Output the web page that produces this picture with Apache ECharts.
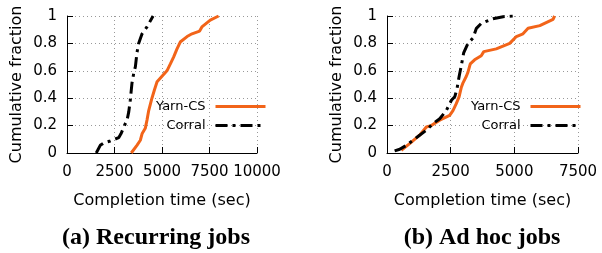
<!DOCTYPE html>
<html>
<head>
<meta charset="utf-8">
<script src="https://cdn.jsdelivr.net/npm/echarts@6/dist/echarts.min.js"></script>
<style>
  html, body { margin: 0; padding: 0; background: #fff; }
  #main { width: 602px; height: 253px; }
</style>
</head>
<body>
<div id="main"></div>
<script>
// (a) Recurring jobs
var recYarnX = [3380, 3680, 3860, 3950, 4120, 4210, 4300, 4470, 4600, 4740, 5000, 5260, 5440, 5610, 5790, 5960, 6320, 6580, 6980, 7100, 7540, 7980];
var recYarnY = [0, 0.056, 0.093, 0.14, 0.18, 0.24, 0.31, 0.40, 0.46, 0.52, 0.56, 0.60, 0.65, 0.70, 0.76, 0.81, 0.85, 0.87, 0.89, 0.92, 0.97, 1.0];
var recCorralX = [1540, 1750, 1930, 2280, 2720, 2840, 3020, 3160, 3250, 3330, 3420, 3510, 3600, 3680, 3770, 3950, 4210, 4530];
var recCorralY = [0, 0.056, 0.073, 0.088, 0.112, 0.14, 0.20, 0.24, 0.30, 0.385, 0.51, 0.58, 0.63, 0.73, 0.80, 0.87, 0.92, 1.0];
// (b) Ad hoc jobs
var adhYarnX = [560, 890, 1280, 1545, 1740, 2070, 2460, 2590, 2720, 2830, 2920, 2980, 3115, 3180, 3270, 3440, 3700, 3800, 4290, 4820, 5080, 5340, 5540, 6000, 6520, 6580];
var adhYarnY = [0.02, 0.068, 0.13, 0.19, 0.20, 0.24, 0.275, 0.31, 0.36, 0.41, 0.48, 0.51, 0.56, 0.59, 0.65, 0.68, 0.71, 0.74, 0.76, 0.80, 0.85, 0.87, 0.91, 0.93, 0.976, 1.0];
var adhCorralX = [300, 500, 760, 1020, 1280, 1545, 1810, 2070, 2330, 2530, 2660, 2750, 2830, 2920, 3010, 3180, 3380, 3510, 3700, 4160, 4560, 5010];
var adhCorralY = [0.015, 0.027, 0.056, 0.093, 0.13, 0.166, 0.215, 0.25, 0.31, 0.385, 0.41, 0.47, 0.556, 0.64, 0.73, 0.80, 0.84, 0.91, 0.946, 0.98, 0.995, 1.0];

var yTicks = ['0', '0.2', '0.4', '0.6', '0.8', '1'];

var FONT = 'DejaVu Sans';
var ORANGE = '#f26419';

function pairs(xs, ys) {
    var out = [];
    for (var i = 0; i < xs.length; i++) {
        out.push([xs[i], ys[i]]);
    }
    return out;
}

function xAxisOf(idx, max) {
    return {
        gridIndex: idx,
        type: 'value',
        min: 0,
        max: max,
        interval: 2500,
        name: 'Completion time (sec)',
        nameLocation: 'middle',
        nameGap: 40,
        nameTextStyle: { color: '#000', fontSize: 16, fontFamily: FONT },
        axisLine: { show: true, lineStyle: { color: '#000', width: 1 } },
        axisTick: { show: true, inside: true, length: 6, lineStyle: { color: '#000' } },
        axisLabel: {
            color: '#000', fontSize: 15, fontFamily: FONT, margin: 12,
            formatter: function (v) { return String(v); }
        },
        splitLine: { show: true, lineStyle: { color: '#999', type: [1, 3], width: 1 } }
    };
}

function yAxisOf(idx) {
    return {
        gridIndex: idx,
        type: 'value',
        min: 0,
        max: 1,
        interval: 0.2,
        name: 'Cumulative fraction',
        nameLocation: 'middle',
        nameGap: 42,
        nameTextStyle: { color: '#000', fontSize: 16, fontFamily: FONT },
        axisLine: { show: true, lineStyle: { color: '#000', width: 1 } },
        axisTick: { show: true, inside: true, length: 6, lineStyle: { color: '#000' } },
        axisLabel: {
            color: '#000', fontSize: 15, fontFamily: FONT, margin: 10,
            formatter: function (v) { return yTicks[Math.round(v * 5)]; }
        },
        splitLine: { show: true, lineStyle: { color: '#999', type: [1, 3], width: 1 } }
    };
}

function yarnSeries(idx, xs, ys) {
    return {
        name: 'Yarn-CS', type: 'line', xAxisIndex: idx, yAxisIndex: idx,
        data: pairs(xs, ys), symbol: 'none', showSymbol: false,
        lineStyle: { color: ORANGE, width: 3 }, itemStyle: { color: ORANGE },
        z: 3
    };
}

function corralSeries(idx, xs, ys) {
    return {
        name: 'Corral', type: 'line', xAxisIndex: idx, yAxisIndex: idx,
        data: pairs(xs, ys), symbol: 'none', showSymbol: false,
        lineStyle: { color: '#000', width: 3, type: [12, 5, 3, 5] }, itemStyle: { color: '#000' },
        z: 4
    };
}

function legendOf(name, right, top) {
    return {
        data: [name],
        orient: 'vertical',
        align: 'right',
        right: right,
        top: top,
        padding: 0,
        itemWidth: 50,
        itemHeight: 14,
        itemGap: 10,
        selectedMode: false,
        // hide the marker ECharts puts in the middle of a line legend icon
        itemStyle: { opacity: 0 },
        lineStyle: { width: 3 },
        textStyle: { color: '#000', fontSize: 13, fontFamily: FONT, padding: [0, 5, 0, 0] }
    };
}

var myChart = echarts.init(document.getElementById('main'), null, { renderer: 'canvas' });

myChart.setOption({
    animation: false,
    backgroundColor: '#fff',
    grid: [
        { left: 67, top: 16, width: 190, height: 137 },
        { left: 387, top: 16, width: 191, height: 137 }
    ],
    xAxis: [xAxisOf(0, 10000), xAxisOf(1, 7500)],
    yAxis: [yAxisOf(0), yAxisOf(1)],
    legend: [
        legendOf('Yarn-CS', 335, 100),
        legendOf('Corral', 335, 119),
        legendOf('Yarn-CS', 20, 100),
        legendOf('Corral', 20, 119)
    ],
    graphic: [
        {
            type: 'text', x: 156, y: 238,
            style: { text: '(a) Recurring jobs', textAlign: 'center', textVerticalAlign: 'middle',
                     font: 'bold 24px "Liberation Serif"', fill: '#000' }
        },
        {
            type: 'text', x: 482, y: 238,
            style: { text: '(b) Ad hoc jobs', textAlign: 'center', textVerticalAlign: 'middle',
                     font: 'bold 24px "Liberation Serif"', fill: '#000' }
        }
    ],
    series: [
        yarnSeries(0, recYarnX, recYarnY),
        corralSeries(0, recCorralX, recCorralY),
        yarnSeries(1, adhYarnX, adhYarnY),
        corralSeries(1, adhCorralX, adhCorralY)
    ]
});
</script>
</body>
</html>
